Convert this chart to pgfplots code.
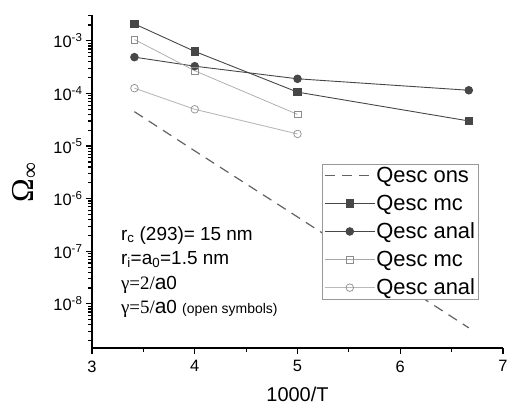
\documentclass[border=0pt]{standalone}
\usepackage{pgfplots}
\pgfplotsset{compat=1.18}
\usepackage{fontspec}
\setmainfont{Liberation Sans}
\newfontfamily\serif{Liberation Serif}
\definecolor{dk}{HTML}{474747}
\definecolor{lt}{HTML}{A8A8A8}
\definecolor{ltm}{HTML}{8C8C8C}
\begin{document}
\begin{tikzpicture}
\useasboundingbox (-92bp,-59bp) rectangle (415bp,348bp);
\begin{axis}[
  at={(0,0)}, anchor=south west, scale only axis,
  width=411bp, height=333bp,
  xmin=3, xmax=7, ymode=log, ymin=1.45e-9, ymax=3.1e-3,
  axis x line*=bottom, axis y line*=left,
  axis line style={line width=1.6bp, black},
  xtick={3,4,5,6,7}, xticklabels={3,4,5,6,7}, minor xtick={3.5,4.5,5.5,6.5},
  ytick={1e-8,1e-7,1e-6,1e-5,1e-4,1e-3},
  yticklabels={10\textsuperscript{-8},10\textsuperscript{-7},10\textsuperscript{-6},10\textsuperscript{-5},10\textsuperscript{-4},10\textsuperscript{-3}},
  minor ytick={2e-9,3e-9,4e-9,5e-9,6e-9,7e-9,8e-9,9e-9,
    2e-8,3e-8,4e-8,5e-8,6e-8,7e-8,8e-8,9e-8,
    2e-7,3e-7,4e-7,5e-7,6e-7,7e-7,8e-7,9e-7,
    2e-6,3e-6,4e-6,5e-6,6e-6,7e-6,8e-6,9e-6,
    2e-5,3e-5,4e-5,5e-5,6e-5,7e-5,8e-5,9e-5,
    2e-4,3e-4,4e-4,5e-4,6e-4,7e-4,8e-4,9e-4,
    2e-3,3e-3},
  tick align=outside, tick style={black, line width=1.2bp},
  major tick length=6bp, minor tick length=3.5bp,
  ticklabel style={font=\fontsize{16.5}{18}\selectfont},
  xticklabel style={yshift=-3bp},
  xlabel={1000/T}, xlabel style={font=\fontsize{20}{24}\selectfont, yshift=-8bp},
  clip=false,
  legend style={at={(0.5596,0.5526)}, anchor=north west, draw=gray!80,
    font=\fontsize{22}{25}\selectfont, inner sep=2bp, row sep=9bp,
    nodes={inner sep=1bp},
    cells={anchor=west}},
  legend image code/.code={\draw[mark repeat=2,mark phase=2] plot coordinates {(0bp,0bp) (25bp,0bp) (50bp,0bp)};},
]
\addplot[dk!85, line width=1.2bp, dash pattern=on 10bp off 7bp] coordinates {
 (3.413,4.5e-5) (4,8.1e-6) (5,4.5e-7) (6.667,3.5e-9)};
\addlegendentry{Qesc ons}
\addplot[dk, line width=0.9bp, mark=square*, mark size=3.6bp, mark options={fill=dk, draw=dk}] coordinates {
 (3.413,2.1e-3) (4,6.3e-4) (5,1.06e-4) (6.667,3.0e-5)};
\addlegendentry{Qesc mc}
\addplot[dk, line width=0.9bp, mark=*, mark size=3.8bp, mark options={fill=dk, draw=dk}] coordinates {
 (3.413,4.9e-4) (4,3.3e-4) (5,1.9e-4) (6.667,1.15e-4)};
\addlegendentry{Qesc anal}
\addplot[lt, line width=0.7bp, mark=square, mark size=3.4bp, mark options={fill=white, draw=ltm, line width=0.7bp}] coordinates {
 (3.413,1.06e-3) (4,2.7e-4) (5,4.0e-5)};
\addlegendentry{Qesc mc}
\addplot[lt!80, line width=0.9bp, mark=o, mark size=3.8bp, mark options={fill=white, draw=ltm, line width=0.7bp}] coordinates {
 (3.413,1.26e-4) (4,5.0e-5) (5,1.7e-5)};
\addlegendentry{Qesc anal}
\node[anchor=west, font=\fontsize{19}{22}\selectfont] at (rel axis cs:0.062,0.338) {r\textsubscript{c} (293)= 15 nm};
\node[anchor=west, font=\fontsize{19}{22}\selectfont] at (rel axis cs:0.062,0.266) {r\textsubscript{i}=a\textsubscript{0}=1.5 nm};
\node[anchor=west, font=\fontsize{19}{22}\selectfont] at (rel axis cs:0.062,0.188) {{\serif γ=2/}{\fontsize{21}{22}\selectfont a}0};
\node[anchor=west, font=\fontsize{19}{22}\selectfont] at (rel axis cs:0.062,0.117) {{\serif γ=5/}{\fontsize{21}{22}\selectfont a}0 {\fontsize{14}{16}\selectfont (open symbols)}};
\end{axis}
\node[rotate=90, font=\serif\fontsize{32}{36}\selectfont] at (-67bp,166bp) {Ω\textsubscript{∞}};
\end{tikzpicture}
\end{document}
